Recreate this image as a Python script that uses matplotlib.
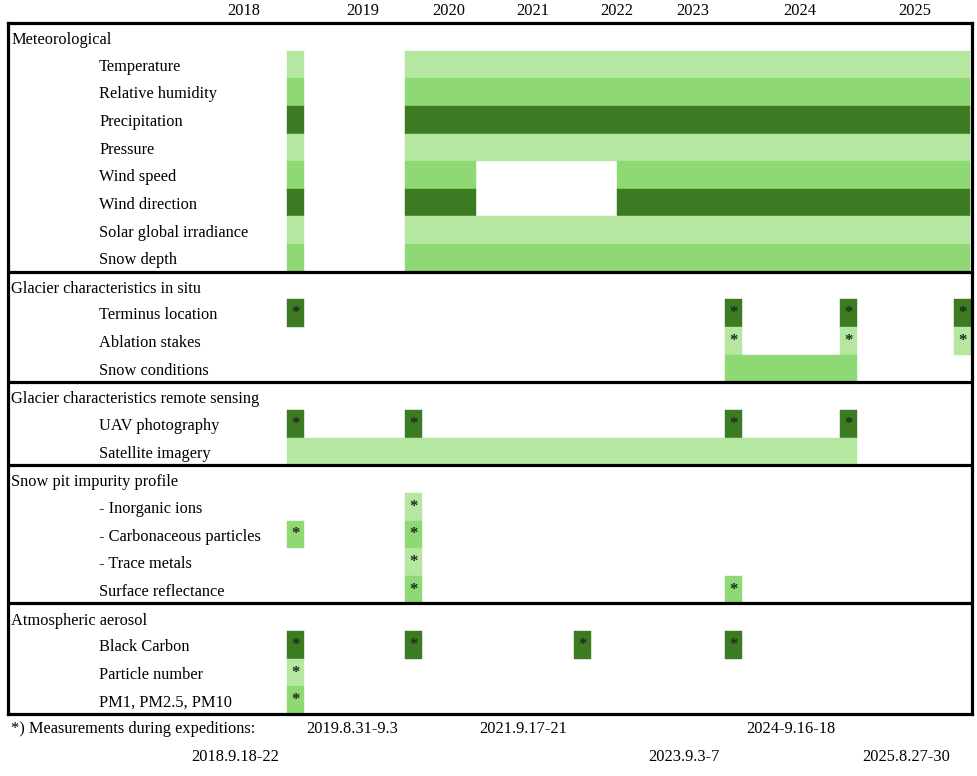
import matplotlib.pyplot as plt

plt.rcParams['font.family'] = ['Liberation Serif', 'DejaVu Serif']

# table layout: rows in order, sections start with a header row
sections = ['Meteorological', 'Glacier characteristics in situ',
            'Glacier characteristics remote sensing', 'Snow pit impurity profile',
            'Atmospheric aerosol']
section_items = [
    ['Temperature', 'Relative humidity', 'Precipitation', 'Pressure', 'Wind speed',
     'Wind direction', 'Solar global irradiance', 'Snow depth'],
    ['Terminus location', 'Ablation stakes', 'Snow conditions'],
    ['UAV photography', 'Satellite imagery'],
    ['- Inorganic ions', '- Carbonaceous particles', '- Trace metals', 'Surface reflectance'],
    ['Black Carbon', 'Particle number', 'PM1, PM2.5, PM10'],
]

# timeline positions (table columns)
year_labels = ['2018', '2019', '2020', '2021', '2022', '2023', '2024', '2025']
year_pos = [244, 363, 449, 533, 617, 693, 800, 915]

exp_names = ['2018', '2019', '2021', '2023', '2024', '2025']
exp_start = [287, 405, 574, 725, 840, 954]
exp_width = 16.5

# continuous periods: item -> list of (start, end)
periods = {
    'Temperature': [(287, 303.5), (405, 970)],
    'Relative humidity': [(287, 303.5), (405, 970)],
    'Precipitation': [(287, 303.5), (405, 970)],
    'Pressure': [(287, 303.5), (405, 970)],
    'Wind speed': [(287, 303.5), (405, 476), (617, 970)],
    'Wind direction': [(287, 303.5), (405, 476), (617, 970)],
    'Solar global irradiance': [(287, 303.5), (405, 970)],
    'Snow depth': [(287, 303.5), (405, 970)],
    'Snow conditions': [(725, 857)],
    'Satellite imagery': [(287, 857)],
}

# expedition measurements: item -> expeditions
expeditions = {
    'Terminus location': ['2018', '2023', '2024', '2025'],
    'Ablation stakes': ['2023', '2024', '2025'],
    'UAV photography': ['2018', '2019', '2023', '2024'],
    '- Inorganic ions': ['2019'],
    '- Carbonaceous particles': ['2018', '2019'],
    '- Trace metals': ['2019'],
    'Surface reflectance': ['2019', '2023'],
    'Black Carbon': ['2018', '2019', '2021', '2023'],
    'Particle number': ['2018'],
    'PM1, PM2.5, PM10': ['2018'],
}

shade = {
    'Temperature': 'light', 'Relative humidity': 'mid', 'Precipitation': 'dark',
    'Pressure': 'light', 'Wind speed': 'mid', 'Wind direction': 'dark',
    'Solar global irradiance': 'light', 'Snow depth': 'mid',
    'Terminus location': 'dark', 'Ablation stakes': 'light', 'Snow conditions': 'mid',
    'UAV photography': 'dark', 'Satellite imagery': 'light',
    '- Inorganic ions': 'light', '- Carbonaceous particles': 'mid',
    '- Trace metals': 'light', 'Surface reflectance': 'mid',
    'Black Carbon': 'dark', 'Particle number': 'light', 'PM1, PM2.5, PM10': 'mid',
}
colors = {'light': '#b6e7a1', 'mid': '#8fd974', 'dark': '#3d7b22'}

footer_text = '*) Measurements during expeditions:'
footer_dates = ['2018.9.18-22', '2019.8.31-9.3', '2021.9.17-21', '2023.9.3-7',
                '2024-9.16-18', '2025.8.27-30']
footer_pos = [235, 352, 523, 684, 791, 906]
footer_line = [1, 0, 0, 1, 0, 1]

fs = 11.8
n_rows = sum(1 + len(s) for s in section_items)

fig = plt.figure(figsize=(9.77, 7.76), dpi=100)
ax = fig.add_axes([8 / 977, 1 - 714 / 776, 964 / 977, 691 / 776])
ax.set_xlim(8, 972)
ax.set_ylim(n_rows, 0)

row = 0
for sec, items in zip(sections, section_items):
    if row > 0:
        ax.axhline(row, color='black', lw=2.3, zorder=5)
    ax.text(11, row + 0.62, sec, fontsize=fs, va='center', ha='left')
    row += 1
    for item in items:
        c = colors[shade[item]]
        ax.text(99, row + 0.58, item, fontsize=fs, va='center', ha='left')
        if item in periods:
            spans = [(a, b - a) for a, b in periods[item]]
            ax.broken_barh(spans, (row, 1), facecolors=c, edgecolor=c, lw=0.3)
        if item in expeditions:
            for e in expeditions[item]:
                x0 = exp_start[exp_names.index(e)]
                ax.broken_barh([(x0, exp_width)], (row, 1), facecolors=c, edgecolor=c, lw=0.3)
                ax.text(x0 + exp_width / 2, row + 0.5, '*', fontsize=12, fontweight='bold',
                        ha='center', va='center', color='#1e2a1a')
        row += 1

for s in ax.spines.values():
    s.set_linewidth(2.3)
ax.set_yticks([])
ax.xaxis.tick_top()
ax.set_xticks(year_pos)
ax.set_xticklabels(year_labels, fontsize=fs)
ax.tick_params(axis='x', length=0, pad=3)

ax.text(11, n_rows + 0.55, footer_text, fontsize=fs, va='center', ha='left', clip_on=False)
for d, x, ln in zip(footer_dates, footer_pos, footer_line):
    ax.text(x, n_rows + 0.55 + ln, d, fontsize=fs, va='center', ha='center', clip_on=False)

fig.savefig('out.png', dpi=100)
